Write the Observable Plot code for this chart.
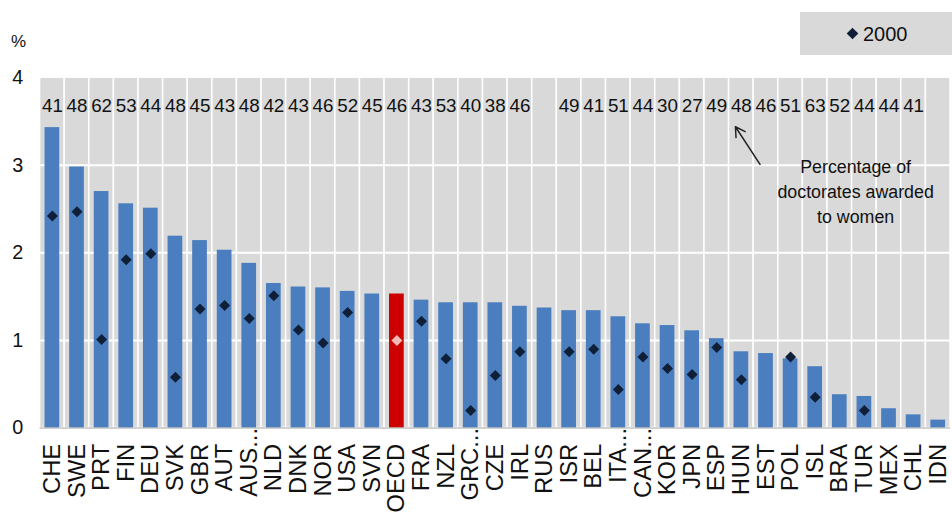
<!DOCTYPE html>
<html>
<head>
<meta charset="utf-8">
<script src="https://cdn.jsdelivr.net/npm/d3@7"></script>
<script src="https://cdn.jsdelivr.net/npm/@observablehq/plot@0.6"></script>
<style>
html, body { margin: 0; padding: 0; background: #fff; overflow: hidden; }
#wrap { position: relative; width: 952px; height: 514px; overflow: hidden; font-family: "Liberation Sans", Arial, sans-serif; }
#pct { position: absolute; left: 11px; top: 33px; font-size: 17px; color: #111; line-height: 1; }
#legend { position: absolute; left: 800px; top: 12px; width: 170px; height: 43px; background: #d9d9d9; }
#legend svg { position: absolute; left: 46px; top: 15px; }
#legend span { position: absolute; left: 63px; top: 11px; font-size: 20px; color: #111; line-height: 1.1; }
#chart { position: absolute; left: 0; top: 0; }
</style>
</head>
<body>
<div id="wrap">
  <div id="chart"></div>
  <div id="pct">%</div>
  <div id="legend"><svg width="13" height="13" viewBox="-6.5 -6.5 13 13"><path d="M0,-5.8L5.8,0L0,5.8L-5.8,0Z" fill="#0f1f38"/></svg><span>2000</span></div>
</div>
<script>
// Categories (in order as shown)
const countries = ["CHE","SWE","PRT","FIN","DEU","SVK","GBR","AUT","AUS","NLD","DNK","NOR","USA","SVN","OECD","FRA","NZL","GRC","CZE","IRL","RUS","ISR","BEL","ITA","CAN","KOR","JPN","ESP","HUN","EST","POL","ISL","BRA","TUR","MEX","CHL","IDN"];
// Bars: latest year, %
const latest = [3.43,2.98,2.70,2.56,2.51,2.19,2.14,2.03,1.88,1.65,1.61,1.60,1.56,1.53,1.53,1.46,1.43,1.43,1.43,1.39,1.37,1.34,1.34,1.27,1.19,1.17,1.11,1.02,0.87,0.85,0.79,0.70,0.38,0.36,0.22,0.15,0.09];
// Diamonds: 2000, %
const y2000 = [2.42,2.47,1.01,1.92,1.99,0.58,1.36,1.40,1.25,1.51,1.12,0.97,1.32,null,1.00,1.22,0.79,0.20,0.60,0.87,null,0.87,0.90,0.44,0.81,0.68,0.61,0.92,0.55,null,0.81,0.35,null,0.20,null,null,null];
// Percentage of doctorates awarded to women
const womenPct = [41,48,62,53,44,48,45,43,48,42,43,46,52,45,46,43,53,40,38,46,null,49,41,51,44,30,27,49,48,46,51,63,52,44,44,41,null];
// Labels truncated in the original
const truncated = ["AUS","GRC","ITA","CAN"];
const yTicks = [0,1,2,3,4];
const gridTicks = [1,2,3];
// Annotation
const annotText = [{x: "BRA", y: 2.72, label: "Percentage of\ndoctorates awarded\nto women"}];
const annotArrow = [{x1: "EST", y1: 3.01, x2: "HUN", y2: 3.44}];

const BLUE = "#4a7ebf", RED = "#cc0000", DIAMOND = "#0f1f38", DIAMOND_OECD = "#f2b9b6", PANEL = "#d9d9d9";

const rows = countries.map((c, i) => ({country: c, latest: latest[i], y2000: y2000[i], pct: womenPct[i]}));
const normalLabels = countries.filter(c => !truncated.includes(c));

const chart = Plot.plot({
  width: 962,
  height: 514,
  marginTop: 78,
  marginBottom: 82,
  marginLeft: 40,
  marginRight: 2,
  style: {fontFamily: "'Liberation Sans', Arial, sans-serif", background: "transparent", color: "#111", overflow: "visible"},
  x: {domain: countries, padding: 0, label: null},
  y: {domain: [0, 4], label: null},
  color: {type: "identity"},
  marks: [
    Plot.cell(countries, {x: d => d, fill: PANEL, stroke: "white", strokeWidth: 1.5}),
    Plot.gridY(gridTicks, {stroke: "white", strokeOpacity: 1, strokeWidth: 2}),
    Plot.barY(rows, {x: "country", y: "latest", fill: d => d.country === "OECD" ? RED : BLUE, insetLeft: 5, insetRight: 5}),
    Plot.ruleY([0], {stroke: "#a3a3a3", strokeWidth: 1}),
    Plot.dot(rows.filter(d => d.y2000 != null), {x: "country", y: "y2000", symbol: "diamond2", r: 5, fill: d => d.country === "OECD" ? DIAMOND_OECD : DIAMOND, stroke: null}),
    Plot.text(rows.filter(d => d.pct != null), {x: "country", text: d => String(d.pct), frameAnchor: "top", dy: 21, fontSize: 19, fill: "#111"}),
    Plot.axisY(yTicks, {tickSize: 0, tickPadding: 17, fontSize: 20, tickFormat: d3.format("d"), label: null}),
    Plot.axisX(normalLabels, {tickRotate: -90, tickSize: 0, tickPadding: 16, fontSize: 24, label: null}),
    Plot.axisX(truncated, {tickRotate: -90, tickSize: 0, tickPadding: 0, fontSize: 24, tickFormat: d => d + "...", label: null}),
    Plot.arrow(annotArrow, {x1: "x1", y1: "y1", x2: "x2", y2: "y2", dx: -6, stroke: "#222", strokeWidth: 1.5, headLength: 11, bend: false}),
    Plot.text(annotText, {x: "x", y: "y", dx: 16, text: "label", fontSize: 18, lineHeight: 1.4, fill: "#111"})
  ]
});
document.getElementById("chart").appendChild(chart);
</script>
</body>
</html>
